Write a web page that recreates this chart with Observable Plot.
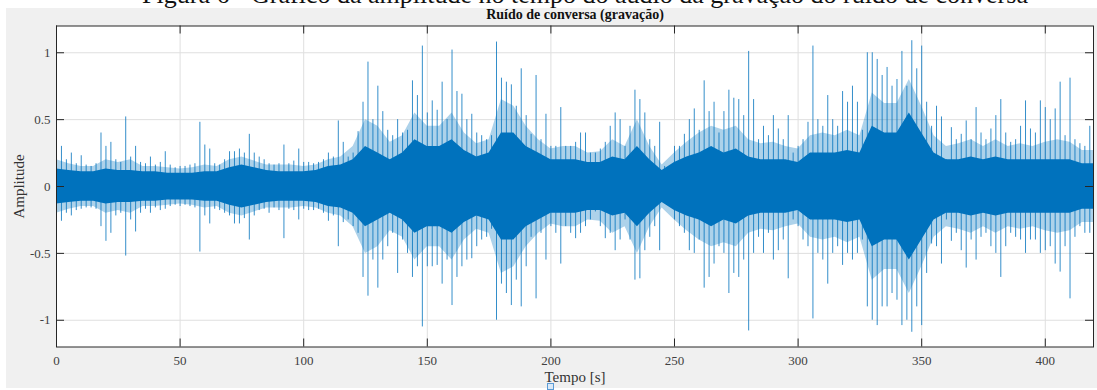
<!DOCTYPE html>
<html><head><meta charset="utf-8">
<script src="https://cdn.jsdelivr.net/npm/d3@7"></script>
<script src="https://cdn.jsdelivr.net/npm/@observablehq/plot@0.6"></script>
<style>
body{margin:0;background:#fff;}
#wrap{position:relative;width:1097px;height:390px;overflow:hidden;font-family:"Liberation Serif",serif;}
#fig{position:absolute;left:6px;top:8px;right:0;bottom:2px;background:#f0f0f0;}
#cap{position:absolute;left:0;top:0;width:1097px;height:8px;overflow:hidden;background:#fff;}
#cap span{position:absolute;left:0;width:1170px;text-align:center;top:-18px;font-size:26px;line-height:26px;white-space:nowrap;color:#111;}
#chart{position:absolute;left:0;top:0;}
#mark{position:absolute;left:547px;top:383px;width:5px;height:5px;border:1px solid #5b9bd5;background:#dbe9f7;}
</style></head><body>
<div id="wrap">
  <div id="fig"></div>
  <div id="cap"><span>Figura 6 - Gráfico da amplitude no tempo do áudio da gravação do ruído de conversa</span></div>
  <div id="chart"></div>
  <div id="mark"></div>
</div>
<script>
// ---- data ----
const title = "Ruído de conversa (gravação)";
const xLabel = "Tempo [s]";
const yLabel = "Amplitude";
const xTicks = [0, 50, 100, 150, 200, 250, 300, 350, 400];
const yTicks = [-1, -0.5, 0, 0.5, 1];
const xMax = 419.5;

// peak envelope, one bin every 2 s starting at 0 s
const peakStep = 2;
const peakTop = [
0.31,0.30,0.20,0.25,0.17,0.23,0.16,0.15,0.17,0.40,
0.30,0.33,0.20,0.18,0.52,0.22,0.30,0.18,0.17,0.22,
0.16,0.18,0.26,0.16,0.14,0.15,0.15,0.16,0.17,0.48,
0.31,0.28,0.17,0.16,0.20,0.26,0.26,0.28,0.25,0.39,
0.25,0.22,0.20,0.17,0.16,0.17,0.31,0.17,0.19,0.28,
0.18,0.18,0.17,0.18,0.20,0.25,0.22,0.49,0.33,0.22,
0.25,0.41,0.63,0.93,0.50,0.75,0.56,0.42,0.38,0.50,
0.40,0.42,0.79,0.68,1.05,0.55,0.64,0.57,0.78,0.50,
1.02,0.71,0.69,0.50,0.54,0.40,0.38,0.35,0.38,1.08,
0.81,0.78,0.76,0.60,0.88,0.53,0.39,0.83,0.35,0.54,
0.30,0.30,0.59,0.30,0.30,0.33,0.40,0.40,0.25,0.25,
0.28,0.33,0.45,0.55,0.50,0.30,0.45,0.72,0.65,0.55,
0.35,0.30,0.48,0.15,0.13,0.30,0.30,0.39,0.50,0.58,
0.42,0.79,0.56,0.63,0.40,0.56,0.72,0.66,0.65,0.53,
1.01,0.65,0.35,0.45,0.38,0.53,0.43,0.35,0.53,0.25,
0.30,0.35,0.48,1.05,0.50,0.45,0.68,0.50,0.45,0.71,
0.63,0.75,0.63,0.42,1.00,1.00,0.95,0.83,0.89,0.75,
0.80,1.01,0.75,1.09,0.88,1.05,0.63,0.45,0.60,0.52,
0.20,0.44,0.35,0.39,0.49,0.35,0.59,0.40,0.35,0.43,
0.53,0.65,0.40,0.33,0.35,0.45,0.64,0.43,0.40,0.64,
0.59,0.50,0.58,0.78,0.38,0.81,0.35,0.32,0.30,0.45
];
const peakBot = [
-0.26,-0.26,-0.20,-0.22,-0.18,-0.17,-0.16,-0.16,-0.17,-0.30,
-0.41,-0.35,-0.22,-0.20,-0.52,-0.25,-0.34,-0.20,-0.17,-0.20,
-0.16,-0.18,-0.17,-0.15,-0.14,-0.15,-0.14,-0.15,-0.16,-0.49,
-0.22,-0.28,-0.17,-0.18,-0.20,-0.22,-0.28,-0.28,-0.24,-0.40,
-0.22,-0.18,-0.17,-0.20,-0.16,-0.18,-0.39,-0.17,-0.18,-0.25,
-0.17,-0.18,-0.18,-0.17,-0.20,-0.26,-0.22,-0.45,-0.27,-0.25,
-0.30,-0.35,-0.68,-0.82,-0.55,-0.76,-0.55,-0.45,-0.35,-0.65,
-0.40,-0.50,-0.68,-0.60,-1.05,-0.60,-0.60,-0.59,-0.73,-0.55,
-0.89,-0.68,-0.60,-0.55,-0.54,-0.45,-0.40,-0.38,-0.32,-1.00,
-0.73,-0.80,-0.89,-0.70,-0.90,-0.60,-0.38,-0.84,-0.35,-0.55,
-0.30,-0.35,-0.58,-0.30,-0.35,-0.39,-0.35,-0.30,-0.25,-0.19,
-0.30,-0.39,-0.35,-0.48,-0.40,-0.25,-0.40,-0.70,-0.69,-0.48,
-0.38,-0.30,-0.48,-0.12,-0.12,-0.25,-0.30,-0.35,-0.48,-0.50,
-0.40,-0.76,-0.68,-0.58,-0.45,-0.50,-0.80,-0.65,-0.68,-0.55,
-1.08,-0.50,-0.38,-0.50,-0.35,-0.55,-0.48,-0.40,-0.69,-0.25,
-0.30,-0.40,-0.45,-0.99,-0.50,-0.55,-0.73,-0.50,-0.45,-0.59,
-0.50,-0.55,-0.50,-0.40,-0.90,-1.00,-1.04,-0.90,-0.90,-0.80,
-0.85,-1.04,-1.00,-1.09,-0.90,-1.04,-0.65,-0.43,-0.45,-0.58,
-0.25,-0.41,-0.35,-0.48,-0.61,-0.40,-0.55,-0.38,-0.35,-0.45,
-0.50,-0.68,-0.45,-0.35,-0.38,-0.40,-0.50,-0.40,-0.40,-0.50,
-0.48,-0.45,-0.58,-0.64,-0.45,-0.84,-0.38,-0.30,-0.35,-0.35
];

// dense core half-width, one value every 5 s starting at 0 s
const coreStep = 5;
const coreAmp = [
0.13,0.12,0.11,0.11,0.13,0.12,0.12,0.11,0.11,0.10,
0.10,0.10,0.11,0.11,0.14,0.16,0.14,0.12,0.11,0.11,
0.11,0.12,0.15,0.16,0.20,0.30,0.25,0.20,0.25,0.35,
0.30,0.30,0.35,0.27,0.22,0.25,0.40,0.40,0.30,0.25,
0.20,0.20,0.20,0.18,0.18,0.22,0.20,0.30,0.20,0.12,
0.18,0.22,0.25,0.30,0.25,0.28,0.22,0.20,0.20,0.20,
0.18,0.25,0.25,0.25,0.27,0.25,0.45,0.40,0.40,0.55,
0.40,0.25,0.20,0.20,0.22,0.20,0.22,0.20,0.20,0.20,
0.20,0.20,0.20,0.17,0.17
];
// half-width of the lighter, sparser fringe around the core, every 5 s
const fringeAmp = [
0.20,0.17,0.15,0.15,0.20,0.18,0.20,0.15,0.15,0.14,
0.13,0.14,0.16,0.15,0.20,0.22,0.19,0.16,0.16,0.16,
0.15,0.16,0.20,0.22,0.30,0.50,0.45,0.33,0.38,0.55,
0.45,0.45,0.55,0.40,0.32,0.35,0.65,0.60,0.45,0.35,
0.28,0.30,0.30,0.25,0.26,0.35,0.30,0.50,0.30,0.16,
0.25,0.33,0.40,0.45,0.42,0.45,0.35,0.32,0.33,0.30,
0.28,0.38,0.40,0.38,0.42,0.38,0.70,0.62,0.62,0.80,
0.60,0.38,0.30,0.32,0.35,0.30,0.35,0.30,0.32,0.30,
0.33,0.35,0.33,0.27,0.27
];

// ---- build tables ----
const peaks = peakTop.map((v, i) => ({t: i * peakStep, top: v, bot: peakBot[i]}));
const core = coreAmp.map((v, i) => ({t: i * coreStep, top: v, bot: -v}));
const fringe = fringeAmp.map((v, i) => ({t: i * coreStep, top: v, bot: -v}));

const W = 1097, H = 390;
const mL = 56, mR = 4, mT = 25.5, mB = 43.5;
const plotW = W - mL - mR, plotH = H - mT - mB;
const blue = "#0072BD";
const axisColor = "#262626";
const tick = 8;

const chart = Plot.plot({
  width: W, height: H,
  marginLeft: mL, marginRight: mR, marginTop: mT, marginBottom: mB,
  style: {fontFamily: "'Liberation Serif', serif", fontSize: "13px", background: "transparent", overflow: "visible"},
  x: {domain: [0, xMax], ticks: xTicks},
  y: {domain: [-1.2, 1.2], ticks: yTicks},
  marks: [
    Plot.frame({fill: "white", stroke: null}),
    Plot.gridX(xTicks, {stroke: "#dfdfdf", strokeOpacity: 1}),
    Plot.gridY(yTicks, {stroke: "#dfdfdf", strokeOpacity: 1}),
    Plot.areaY(fringe, {x: "t", y1: "bot", y2: "top", fill: blue, fillOpacity: 0.32, clip: true}),
    Plot.ruleX(peaks, {x: "t", y1: "bot", y2: "top", stroke: blue, strokeWidth: 1, strokeOpacity: 0.8, clip: true}),
    Plot.areaY(core, {x: "t", y1: "bot", y2: "top", fill: blue, clip: true}),
    Plot.frame({stroke: axisColor, strokeWidth: 1}),
    Plot.ruleX(xTicks, {x: d => d, insetTop: plotH - tick, stroke: axisColor}),
    Plot.ruleX(xTicks, {x: d => d, insetBottom: plotH - tick, stroke: axisColor}),
    Plot.ruleY(yTicks, {y: d => d, insetRight: plotW - tick, stroke: axisColor}),
    Plot.ruleY(yTicks, {y: d => d, insetLeft: plotW - tick, stroke: axisColor}),
    Plot.axisX(xTicks, {tickSize: 0, tickPadding: 9, color: "#404040", label: null, fontSize: 13}),
    Plot.axisY(yTicks, {tickSize: 0, tickPadding: 6, color: "#404040", label: null, fontSize: 13, tickFormat: d => String(d)}),
    Plot.text([title], {frameAnchor: "top", dy: -7, lineAnchor: "bottom", fontWeight: "bold", fontSize: 14, fill: "#111"}),
    Plot.text([xLabel], {frameAnchor: "bottom", dy: 24, lineAnchor: "top", fontSize: 15, fill: "#333"}),
    Plot.text([yLabel], {frameAnchor: "left", dx: -37, rotate: -90, textAnchor: "middle", fontSize: 15, fill: "#333"})
  ]
});
document.getElementById("chart").appendChild(chart);
</script>
</body></html>
